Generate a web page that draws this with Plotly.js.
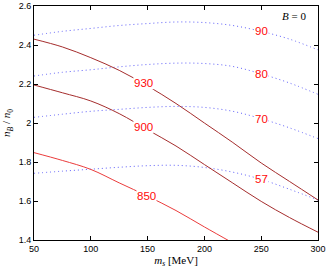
<!DOCTYPE html>
<html>
<head>
<meta charset="utf-8">
<script src="https://cdn.plot.ly/plotly-3.0.1.min.js"></script>
<style>html,body{margin:0;padding:0;background:#fff;}#chart{width:327px;height:273px;}</style>
</head>
<body>
<div id="chart"></div>
<script>
// m_s [MeV]
var ms = [50, 75, 100, 125, 150, 175, 200, 225, 250, 275, 300];
var ms850 = [50, 75, 100, 125, 150, 175, 200, 225];

// solid curves (labels 930, 900, 850)
var solidLabels = ["930", "900", "850"];
var n930 = [2.43, 2.39, 2.335, 2.27, 2.19, 2.10, 2.00, 1.90, 1.795, 1.70, 1.605];
var n900 = [2.195, 2.155, 2.113, 2.048, 1.965, 1.882, 1.787, 1.692, 1.598, 1.515, 1.44];
var n850 = [1.848, 1.808, 1.762, 1.693, 1.625, 1.551, 1.467, 1.385];

// dotted curves (labels 90, 80, 70, 57)
var dotLabels = ["90", "80", "70", "57"];
var n90 = [2.45, 2.47, 2.485, 2.50, 2.51, 2.518, 2.515, 2.50, 2.47, 2.43, 2.375];
var n80 = [2.241, 2.26, 2.273, 2.288, 2.30, 2.307, 2.305, 2.29, 2.252, 2.205, 2.147];
var n70 = [2.029, 2.045, 2.06, 2.07, 2.08, 2.085, 2.08, 2.06, 2.022, 1.975, 1.92];
var n57 = [1.742, 1.753, 1.763, 1.773, 1.781, 1.783, 1.772, 1.748, 1.711, 1.66, 1.605];

var xTicks = [50, 100, 150, 200, 250, 300];
var yTicks = [1.4, 1.6, 1.8, 2, 2.2, 2.4, 2.6];

function interp(xs, ys, x) {
  for (var i = 0; i < xs.length - 1; i++) {
    if (x >= xs[i] && x <= xs[i + 1]) {
      var t = (x - xs[i]) / (xs[i + 1] - xs[i]);
      return ys[i] + t * (ys[i + 1] - ys[i]);
    }
  }
  return ys[ys.length - 1];
}

var darkRed = 'rgb(165,45,45)';
var lightRed = 'rgb(235,60,60)';
var blue = 'rgb(95,95,250)';

var solidSeries = [
  {x: ms, y: n930, c: darkRed, lx: 146},
  {x: ms, y: n900, c: darkRed, lx: 146},
  {x: ms850, y: n850, c: lightRed, lx: 149}
];
var dotSeries = [
  {x: ms, y: n90, lx: 250},
  {x: ms, y: n80, lx: 250},
  {x: ms, y: n70, lx: 250},
  {x: ms, y: n57, lx: 250}
];

var traces = [];
var annotations = [];
var labFont = {family: 'Liberation Sans, Arial, sans-serif', size: 11.5, color: 'rgb(255,10,10)'};

dotSeries.forEach(function (s, i) {
  traces.push({x: s.x, y: s.y, mode: 'lines', type: 'scatter',
    line: {color: blue, width: 1, dash: '1px,3px', shape: 'spline'}, hoverinfo: 'none'});
  annotations.push({x: s.lx, y: interp(s.x, s.y, s.lx), xref: 'x', yref: 'y', text: dotLabels[i],
    showarrow: false, font: labFont, bgcolor: 'white', borderpad: 0});
});
solidSeries.forEach(function (s, i) {
  traces.push({x: s.x, y: s.y, mode: 'lines', type: 'scatter',
    line: {color: s.c, width: 1, shape: 'spline'}, hoverinfo: 'none'});
  annotations.push({x: s.lx, y: interp(s.x, s.y, s.lx), xref: 'x', yref: 'y', text: solidLabels[i],
    showarrow: false, font: labFont, bgcolor: 'white', borderpad: 0});
});

annotations.push({x: 279, y: 2.548, xref: 'x', yref: 'y', text: '<i>B</i> = 0', showarrow: false,
  font: {family: 'Liberation Serif, Times New Roman, serif', size: 11, color: 'black'}});

var tickFont = {family: 'Liberation Sans, Arial, sans-serif', size: 9, color: 'black'};

var layout = {
  width: 327, height: 273,
  margin: {l: 34, r: 9, t: 6, b: 33},
  paper_bgcolor: 'white', plot_bgcolor: 'white',
  showlegend: false,
  font: tickFont,
  xaxis: {
    range: [50, 300], tickvals: xTicks, ticktext: xTicks.map(String),
    ticks: 'inside', ticklen: 4, tickcolor: 'black', tickwidth: 1,
    showline: true, linecolor: 'black', linewidth: 1, mirror: 'ticks',
    showgrid: false, zeroline: false, tickfont: tickFont,
    title: {text: '<i>m</i><sub><i>s</i></sub> [MeV]', standoff: 3,
      font: {family: 'Liberation Serif, Times New Roman, serif', size: 11, color: 'black'}}
  },
  yaxis: {
    range: [1.4, 2.6], tickvals: yTicks, ticktext: yTicks.map(String),
    ticks: 'inside', ticklen: 4, tickcolor: 'black', tickwidth: 1,
    showline: true, linecolor: 'black', linewidth: 1, mirror: 'ticks',
    showgrid: false, zeroline: false, tickfont: tickFont,
    title: {text: '<i>n</i><sub><i>B</i></sub> / <i>n</i><sub>0</sub>', standoff: 5,
      font: {family: 'Liberation Serif, Times New Roman, serif', size: 11, color: 'black'}}
  },
  annotations: annotations
};

Plotly.newPlot('chart', traces, layout, {staticPlot: true, displayModeBar: false});
</script>
</body>
</html>
